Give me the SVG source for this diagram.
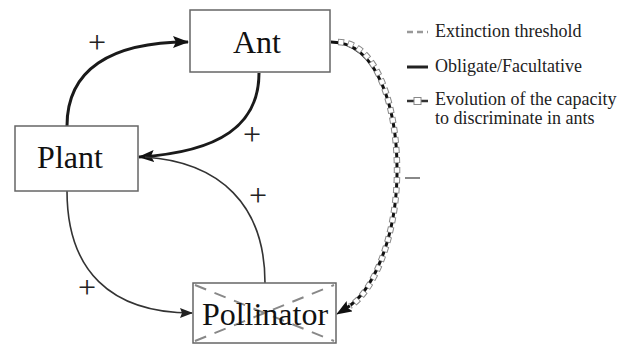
<svg xmlns="http://www.w3.org/2000/svg" width="628" height="347" viewBox="0 0 628 347">
<style>
.box{fill:#fff;stroke:#666;stroke-width:1.5}
.lbl{font-family:"Liberation Serif",serif;font-size:32px;fill:#111;text-anchor:middle}
.leg{font-family:"Liberation Serif",serif;font-size:18px;fill:#222}
.sign{font-family:"Liberation Serif",serif;font-size:32px;fill:#222;text-anchor:middle}
.thick{fill:none;stroke:#1a1a1a;stroke-width:3}
.thin{fill:none;stroke:#333;stroke-width:1.6}
.chkB{fill:none;stroke:#111;stroke-width:3}
.chkG{fill:none;stroke:#888;stroke-width:6.5;stroke-dasharray:6 4}
.chkW{fill:none;stroke:#fff;stroke-width:4.5;stroke-dasharray:4.5 5.5;stroke-dashoffset:-0.75}
.ext{fill:none;stroke:#888;stroke-width:2;stroke-dasharray:12 9}
</style>
<defs>
<marker id="ah" markerUnits="userSpaceOnUse" markerWidth="16" markerHeight="12" viewBox="0 0 16 12" refX="15" refY="6" orient="auto">
<path d="M0,0 L16,6 L0,12 L3,6 Z" fill="#111"/>
</marker>
<marker id="ahs" markerUnits="userSpaceOnUse" markerWidth="13" markerHeight="10" viewBox="0 0 13 10" refX="12" refY="5" orient="auto">
<path d="M0,0 L13,5 L0,10 L2,5 Z" fill="#222"/>
</marker>
</defs>

<g id="connectors">
<path class="thick" d="M67,126 C67,70 110,42 188,42" marker-end="url(#ah)"/>
<path class="thick" d="M259,73 C259,125 220,152 139,157" marker-end="url(#ah)"/>
<path class="thin" d="M265,283 C265,205 220,162 145,157"/>
<path class="thin" d="M67,191 C67,270 110,313 192,313" marker-end="url(#ahs)"/>
<g id="discrimination">
<path class="chkB" d="M331,42 C378,42 398,110 397,175 C396,240 372,293 345,309"/>
<path class="chkG" d="M338,42 C378,42 398,110 397,175 C396,240 372,293 350,306"/>
<path class="chkW" d="M338,42 C378,42 398,110 397,175 C396,240 372,293 350,306"/>
<path d="M350,306 L337,314" fill="none" stroke="#111" stroke-width="1" marker-end="url(#ah)"/>
</g>
<text class="sign" x="97" y="53">+</text>
<text class="sign" x="252" y="145">+</text>
<text class="sign" x="258" y="206">+</text>
<text class="sign" x="87" y="298">+</text>
<line x1="405" y1="178" x2="420" y2="178" stroke="#888" stroke-width="2"/>
</g>

<g id="ant">
<rect class="box" x="190" y="10" width="140" height="62"/>
<text class="lbl" x="257" y="53">Ant</text>
</g>
<g id="plant">
<rect class="box" x="15" y="126" width="123" height="65"/>
<text class="lbl" x="70" y="168">Plant</text>
</g>
<g id="pollinator">
<rect class="box" x="193" y="283" width="143" height="60"/>
<line class="ext" x1="195" y1="285" x2="334" y2="341"/>
<line class="ext" x1="195" y1="341" x2="334" y2="285"/>
<text class="lbl" x="265" y="325">Pollinator</text>
</g>

<g id="legend">
<line x1="407" y1="32" x2="428" y2="32" stroke="#999" stroke-width="2.5" stroke-dasharray="6 4"/>
<text class="leg" x="435" y="37">Extinction threshold</text>
<line x1="407" y1="67" x2="428" y2="67" stroke="#222" stroke-width="3"/>
<text class="leg" x="435" y="72">Obligate/Facultative</text>
<line x1="407" y1="101" x2="428" y2="101" stroke="#333" stroke-width="2.5"/>
<rect x="414" y="97.5" width="7" height="7" fill="#fff" stroke="#888" stroke-width="1"/>
<text class="leg" x="435" y="105">Evolution of the capacity</text>
<text class="leg" x="435" y="124">to discriminate in ants</text>
</g>
</svg>
